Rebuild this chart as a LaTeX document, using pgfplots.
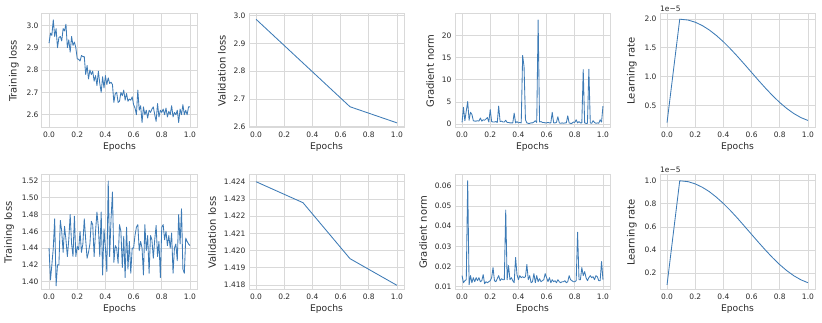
\documentclass[border=0pt]{standalone}
\usepackage{fontspec}
\setmainfont{DejaVu Sans}
\usepackage{pgfplots}
\pgfplotsset{compat=1.18}
\definecolor{gridc}{HTML}{D9D9D9}
\definecolor{lc}{HTML}{3D7BB6}
\definecolor{txt}{HTML}{2A2A2A}
\pgfplotsset{
  panel/.style={
    scale only axis, width=155pt, height=114pt,
    xmin=-0.05, xmax=1.05,
    xtick={0,0.2,0.4,0.6,0.8,1},
    scaled ticks=false,
    clip mode=individual,
    grid=major,
    major grid style={color=gridc, line width=0.8pt},
    axis line style={color=gridc, line width=1pt},
    tick style={draw=none},
    /pgf/number format/assume math mode=true,
    ticklabel style={font=\fontsize{7.5}{8}\selectfont, color=txt},
    xticklabel style={/pgf/number format/fixed, /pgf/number format/fixed zerofill, /pgf/number format/precision=1},
    xlabel={Epochs},
    xlabel style={font=\fontsize{9.2}{10}\selectfont, color=txt, yshift=2pt},
    ylabel style={font=\fontsize{10}{11}\selectfont, color=txt, yshift=1pt},
    every axis plot post/.append style={color=lc, line width=0.85pt, line join=round},
    no markers,
  },
  yprec/.style={yticklabel style={/pgf/number format/fixed, /pgf/number format/fixed zerofill, /pgf/number format/precision=#1}},
}
\begin{document}
\begin{tikzpicture}[x=1pt,y=1pt]
\useasboundingbox (0,0) rectangle (822,323);

% ---------- Top row ----------
\begin{axis}[panel, at={(42pt,195pt)}, anchor=south west,
  ymin=2.5405, ymax=3.0506, ytick={2.6,2.7,2.8,2.9,3.0}, yprec=1,
  ylabel={Training loss}]
\addplot coordinates {
(0.00,2.92) (0.01,2.965) (0.02,2.955) (0.03,3.025) (0.04,2.95) (0.05,2.985) (0.06,2.90) (0.07,2.945) (0.08,2.95) (0.09,2.93)
(0.10,2.985) (0.11,2.975) (0.12,3.005) (0.13,2.90) (0.14,2.935) (0.15,2.88) (0.16,2.95) (0.17,2.91) (0.18,2.925) (0.19,2.90)
(0.20,2.85) (0.21,2.848) (0.22,2.84) (0.23,2.865) (0.24,2.86) (0.25,2.86) (0.26,2.78) (0.27,2.82) (0.28,2.76) (0.29,2.80)
(0.30,2.78) (0.31,2.795) (0.32,2.75) (0.33,2.775) (0.34,2.73) (0.35,2.795) (0.36,2.74) (0.37,2.70) (0.38,2.77) (0.39,2.72)
(0.40,2.775) (0.41,2.735) (0.42,2.765) (0.43,2.74) (0.44,2.745) (0.45,2.735) (0.46,2.655) (0.47,2.695) (0.48,2.70) (0.49,2.655)
(0.50,2.66) (0.51,2.70) (0.52,2.685) (0.53,2.71) (0.54,2.665) (0.55,2.695) (0.56,2.66) (0.57,2.67) (0.58,2.665) (0.59,2.68)
(0.60,2.645) (0.61,2.63) (0.62,2.60) (0.63,2.71) (0.64,2.62) (0.65,2.64) (0.66,2.565) (0.67,2.635) (0.68,2.60) (0.69,2.62)
(0.70,2.585) (0.71,2.62) (0.72,2.61) (0.73,2.625) (0.74,2.635) (0.75,2.60) (0.76,2.57) (0.77,2.65) (0.78,2.59) (0.79,2.62)
(0.80,2.61) (0.81,2.625) (0.82,2.60) (0.83,2.63) (0.84,2.59) (0.85,2.615) (0.86,2.60) (0.87,2.64) (0.88,2.59) (0.89,2.61)
(0.90,2.60) (0.91,2.62) (0.92,2.565) (0.93,2.625) (0.94,2.60) (0.95,2.645) (0.96,2.60) (0.97,2.62) (0.98,2.60) (0.99,2.635)
(1.00,2.635)
};
\end{axis}

\begin{axis}[panel, at={(249pt,195pt)}, anchor=south west,
  ymin=2.5955, ymax=3.006, ytick={2.6,2.7,2.8,2.9,3.0}, yprec=1,
  ylabel={Validation loss}]
\addplot coordinates {(0,2.987) (0.3333,2.8295) (0.6667,2.672) (1,2.614)};
\end{axis}

\begin{axis}[panel, at={(455pt,195pt)}, anchor=south west,
  ymin=-0.85, ymax=24.85, ytick={0,5,10,15,20},
  ylabel={Gradient norm}]
\addplot coordinates {
(0.00,0.4) (0.01,3.8) (0.02,0.8) (0.03,3.0) (0.04,5.1) (0.05,0.9) (0.06,2.7) (0.07,2.2) (0.08,0.8) (0.09,0.7)
(0.10,0.7) (0.11,0.8) (0.12,0.7) (0.13,1.4) (0.14,0.7) (0.15,1.0) (0.16,0.9) (0.17,1.2) (0.18,1.5) (0.19,0.5)
(0.20,3.3) (0.21,0.6) (0.22,0.5) (0.23,0.5) (0.24,0.6) (0.25,0.4) (0.26,4.1) (0.27,0.6) (0.28,0.7) (0.29,0.5)
(0.30,0.5) (0.31,0.9) (0.32,0.4) (0.33,0.4) (0.34,0.3) (0.35,0.3) (0.36,0.3) (0.37,2.5) (0.38,0.3) (0.39,0.6)
(0.40,0.3) (0.41,0.4) (0.42,0.3) (0.43,15.5) (0.44,13.0) (0.45,1.0) (0.46,0.3) (0.47,0.2) (0.48,0.2) (0.49,0.3)
(0.50,0.3) (0.51,0.5) (0.52,0.8) (0.53,0.4) (0.54,23.5) (0.55,0.5) (0.56,0.6) (0.57,0.4) (0.58,0.4) (0.59,0.3)
(0.60,0.3) (0.61,0.4) (0.62,0.3) (0.63,0.3) (0.64,2.7) (0.65,0.3) (0.66,0.3) (0.67,0.4) (0.68,1.7) (0.69,0.3)
(0.70,0.2) (0.71,0.3) (0.72,0.2) (0.73,0.3) (0.74,0.3) (0.75,1.9) (0.76,0.3) (0.77,0.2) (0.78,0.2) (0.79,0.5)
(0.80,0.4) (0.81,1.0) (0.82,0.3) (0.83,0.6) (0.84,0.3) (0.85,0.3) (0.86,12.3) (0.87,0.3) (0.88,0.2) (0.89,0.2)
(0.90,12.4) (0.91,0.3) (0.92,0.2) (0.93,0.8) (0.94,0.4) (0.95,0.2) (0.96,0.3) (0.97,0.2) (0.98,1.0) (0.99,0.5)
(1.00,4.1)
};
\end{axis}

\begin{axis}[panel, at={(660pt,195pt)}, anchor=south west,
  ymin=0.105, ymax=2.09, ytick={0.5,1.0,1.5,2.0}, yprec=1,
  ylabel={Learning rate}]
\addplot coordinates {
(0,0.2) (0.09,2.0) (0.15,1.984) (0.2,1.947) (0.25,1.889) (0.3,1.811) (0.35,1.716) (0.4,1.606) (0.45,1.483)
(0.5,1.351) (0.55,1.213) (0.6,1.072) (0.65,0.931) (0.7,0.795) (0.75,0.666) (0.8,0.548) (0.85,0.444)
(0.9,0.356) (0.95,0.286) (1.0,0.236)
};
\node[anchor=south west, font=\fontsize{7.5}{8}\selectfont, color=txt, inner sep=0pt, yshift=2pt] at (rel axis cs:0,1) {1e−5};
\end{axis}

% ---------- Bottom row ----------
\begin{axis}[panel, at={(42pt,33pt)}, anchor=south west, height=115pt,
  ymin=1.3901, ymax=1.5272, ytick={1.40,1.42,1.44,1.46,1.48,1.50,1.52}, yprec=2,
  ylabel={Training loss}]
\addplot coordinates {
(0.00,1.44) (0.01,1.402) (0.02,1.42) (0.03,1.44) (0.04,1.475) (0.05,1.395) (0.06,1.42) (0.07,1.42) (0.08,1.473) (0.09,1.46)
(0.10,1.435) (0.11,1.466) (0.12,1.45) (0.13,1.43) (0.14,1.45) (0.15,1.48) (0.16,1.445) (0.17,1.43) (0.18,1.478) (0.19,1.43)
(0.20,1.442) (0.21,1.438) (0.22,1.46) (0.23,1.435) (0.24,1.445) (0.25,1.475) (0.26,1.45) (0.27,1.428) (0.28,1.435) (0.29,1.445)
(0.30,1.472) (0.31,1.468) (0.32,1.43) (0.33,1.46) (0.34,1.483) (0.35,1.465) (0.36,1.43) (0.37,1.483) (0.38,1.408) (0.39,1.463)
(0.40,1.44) (0.41,1.412) (0.42,1.52) (0.43,1.43) (0.44,1.475) (0.45,1.507) (0.46,1.423) (0.47,1.443) (0.48,1.44) (0.49,1.422)
(0.50,1.468) (0.51,1.46) (0.52,1.417) (0.53,1.454) (0.54,1.405) (0.55,1.465) (0.56,1.415) (0.57,1.448) (0.58,1.41) (0.59,1.44)
(0.60,1.44) (0.61,1.455) (0.62,1.465) (0.63,1.468) (0.64,1.437) (0.65,1.448) (0.66,1.44) (0.67,1.408) (0.68,1.468) (0.69,1.437)
(0.70,1.455) (0.71,1.41) (0.72,1.455) (0.73,1.45) (0.74,1.428) (0.75,1.45) (0.76,1.467) (0.77,1.43) (0.78,1.448) (0.79,1.405)
(0.80,1.465) (0.81,1.468) (0.82,1.45) (0.83,1.46) (0.84,1.443) (0.85,1.455) (0.86,1.44) (0.87,1.458) (0.88,1.41) (0.89,1.44)
(0.90,1.445) (0.91,1.425) (0.92,1.48) (0.93,1.445) (0.94,1.487) (0.95,1.415) (0.96,1.41) (0.97,1.452) (0.98,1.448) (0.99,1.445)
(1.00,1.443)
};
\end{axis}

\begin{axis}[panel, at={(249pt,33pt)}, anchor=south west, height=115pt,
  ymin=1.41771, ymax=1.42439, ytick={1.418,1.419,1.420,1.421,1.422,1.423,1.424}, yprec=3,
  ylabel={Validation loss}]
\addplot coordinates {(0,1.4240) (0.3333,1.42278) (0.6667,1.41953) (1,1.41798)};
\end{axis}

\begin{axis}[panel, at={(455pt,33pt)}, anchor=south west, height=115pt,
  ymin=0.0084, ymax=0.0653, ytick={0.01,0.02,0.03,0.04,0.05,0.06}, yprec=2,
  ylabel={Gradient norm}]
\addplot coordinates {
(0.00,0.0155) (0.01,0.012) (0.02,0.013) (0.03,0.0135) (0.04,0.0625) (0.05,0.011) (0.06,0.0155) (0.07,0.012) (0.08,0.0145) (0.09,0.0125)
(0.10,0.0145) (0.11,0.013) (0.12,0.0145) (0.13,0.0125) (0.14,0.013) (0.15,0.016) (0.16,0.0115) (0.17,0.0125) (0.18,0.012) (0.19,0.0125)
(0.20,0.013) (0.21,0.0145) (0.22,0.0195) (0.23,0.013) (0.24,0.0125) (0.25,0.014) (0.26,0.0155) (0.27,0.013) (0.28,0.014) (0.29,0.0135)
(0.30,0.0135) (0.31,0.048) (0.32,0.0135) (0.33,0.0205) (0.34,0.0135) (0.35,0.0145) (0.36,0.013) (0.37,0.012) (0.38,0.0245) (0.39,0.016)
(0.40,0.0135) (0.41,0.0155) (0.42,0.0145) (0.43,0.015) (0.44,0.0145) (0.45,0.0150) (0.46,0.021) (0.47,0.0135) (0.48,0.0155) (0.49,0.012)
(0.50,0.0125) (0.51,0.0165) (0.52,0.012) (0.53,0.0155) (0.54,0.0125) (0.55,0.014) (0.56,0.0125) (0.57,0.013) (0.58,0.0135) (0.59,0.0165)
(0.60,0.0145) (0.61,0.0125) (0.62,0.0145) (0.63,0.012) (0.64,0.0135) (0.65,0.0125) (0.66,0.013) (0.67,0.012) (0.68,0.0135) (0.69,0.0125)
(0.70,0.012) (0.71,0.0125) (0.72,0.0125) (0.73,0.013) (0.74,0.012) (0.75,0.0125) (0.76,0.0155) (0.77,0.0135) (0.78,0.013) (0.79,0.0125)
(0.80,0.0125) (0.81,0.013) (0.82,0.037) (0.83,0.0135) (0.84,0.0135) (0.85,0.0195) (0.86,0.0155) (0.87,0.0175) (0.88,0.0145) (0.89,0.013)
(0.90,0.0145) (0.91,0.0155) (0.92,0.0145) (0.93,0.015) (0.94,0.0135) (0.95,0.0155) (0.96,0.015) (0.97,0.013) (0.98,0.013) (0.99,0.0225)
(1.00,0.0135)
};
\end{axis}

\begin{axis}[panel, at={(660pt,33pt)}, anchor=south west, height=115pt,
  ymin=0.055, ymax=1.05, ytick={0.2,0.4,0.6,0.8,1.0}, yprec=1,
  ylabel={Learning rate}]
\addplot coordinates {
(0,0.1) (0.09,1.0) (0.15,0.992) (0.2,0.973) (0.25,0.944) (0.3,0.906) (0.35,0.858) (0.4,0.803) (0.45,0.742)
(0.5,0.676) (0.55,0.606) (0.6,0.536) (0.65,0.466) (0.7,0.398) (0.75,0.333) (0.8,0.274) (0.85,0.222)
(0.9,0.178) (0.95,0.143) (1.0,0.118)
};
\node[anchor=south west, font=\fontsize{7.5}{8}\selectfont, color=txt, inner sep=0pt, yshift=2pt] at (rel axis cs:0,1) {1e−5};
\end{axis}
\end{tikzpicture}
\end{document}
